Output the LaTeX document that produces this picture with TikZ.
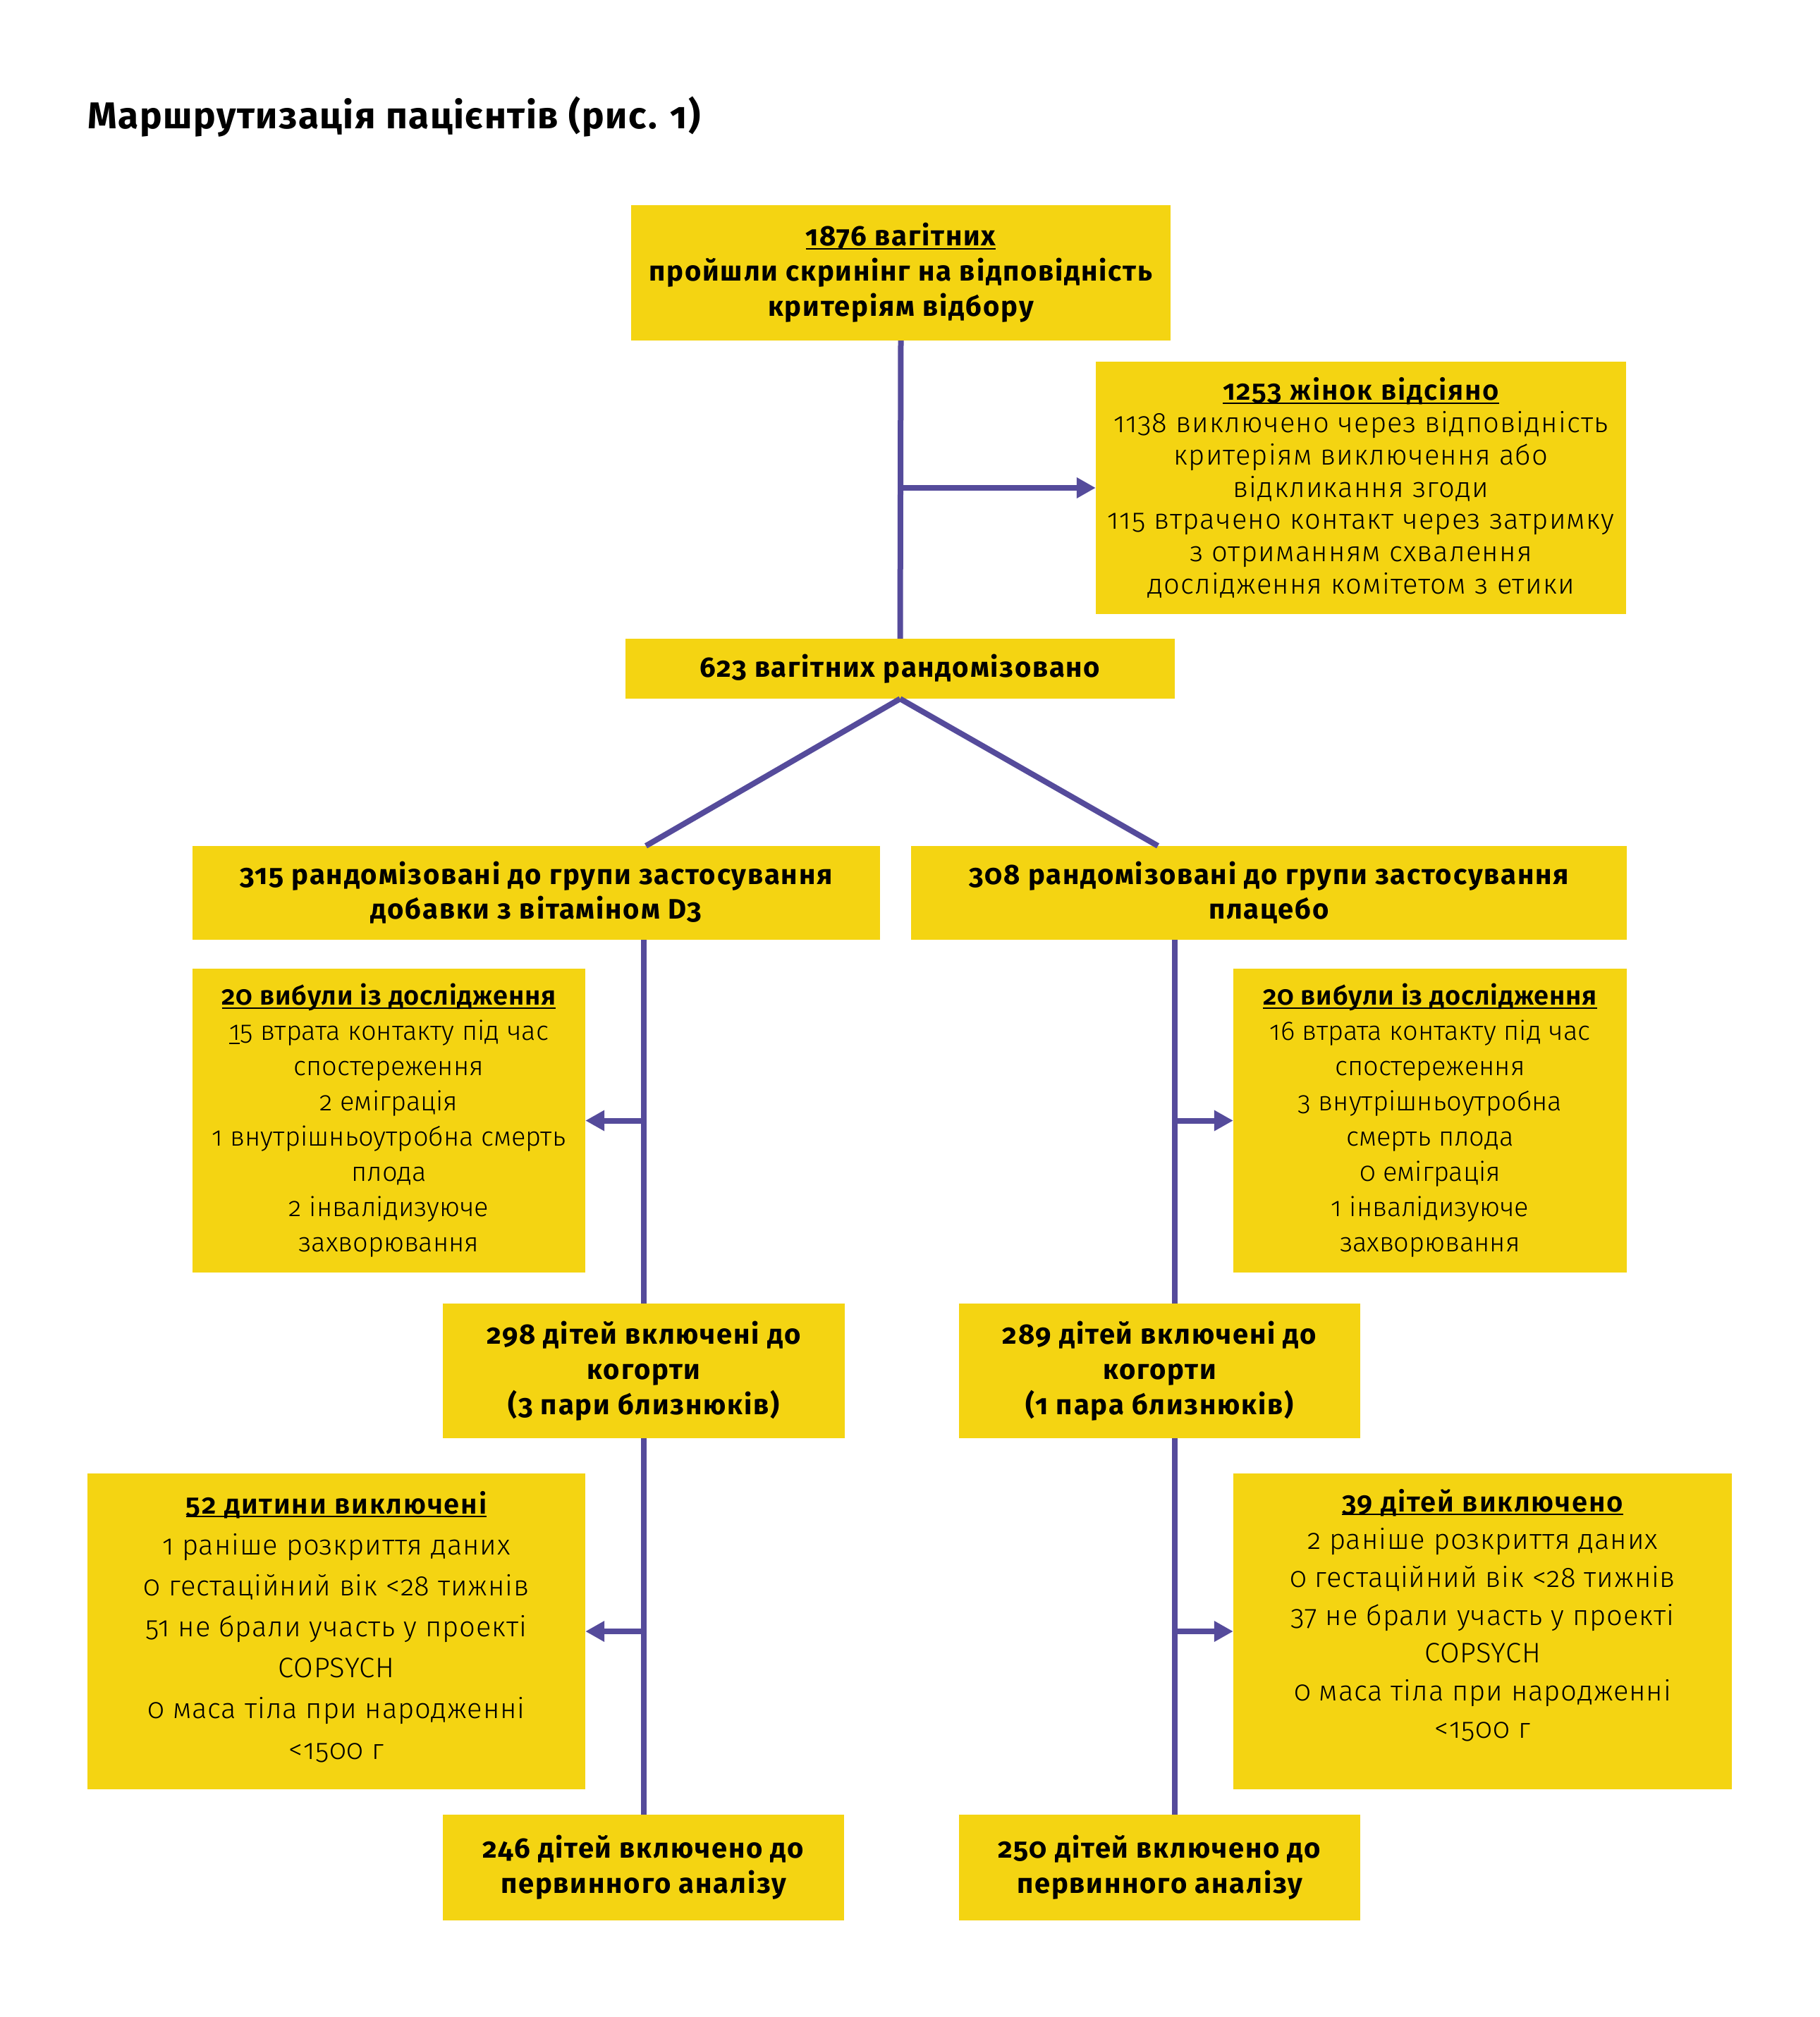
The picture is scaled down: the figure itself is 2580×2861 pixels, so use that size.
\documentclass[tikz,border=0pt]{standalone}
\usepackage{fontspec}
\setmainfont{Fira Sans}[Numbers=OldStyle]
\newfontfamily\lt{Fira Sans Light}[Numbers=OldStyle]
\newsavebox\undlbox
\newcommand\undl[1]{\sbox\undlbox{#1}\rlap{\rule[-5pt]{\wd\undlbox}{2pt}}\usebox\undlbox}
\newcommand\bfls{\bfseries\addfontfeature{LetterSpace=4.5}}
\newcommand\ltls[1]{\lt\addfontfeature{LetterSpace=#1}}
\usetikzlibrary{arrows.meta}
\definecolor{yel}{HTML}{F4D412}
\definecolor{pur}{HTML}{554B9B}
\tikzset{
  box/.style={fill=yel, inner sep=0pt, align=center, text=black},
  ln/.style={draw=pur, line width=8pt},
  arr/.style={draw=pur, line width=8pt, -{Triangle[length=27pt,width=28pt]}, fill=pur},
}
\begin{document}
\begin{tikzpicture}[x=1pt,y=-1pt]
\useasboundingbox (0,0) rectangle (2580,2861);
\fill[white] (0,0) rectangle (2580,2861);

\node[anchor=base west, inner sep=0pt, font=\fontsize{53}{60}\selectfont\bfseries\addfontfeature{LetterSpace=3}] (title) at (124,182) {Маршрутизація пацієнтів (рис. 1)};

\node[box, minimum width=765pt, minimum height=192pt, font=\fontsize{40}{50}\selectfont\bfls] (top) at (1277.5,387)
 {\undl{1876 вагітних}\\ пройшли скринінг на відповідність\\ критеріям відбору};

\node[box, minimum width=752pt, minimum height=358pt, font=\fontsize{40}{45.8}\selectfont\ltls{2.9}] (excl) at (1930,692)
 {{\bfls\undl{1253 жінок відсіяно}}\\ 1138 виключено через відповідність\\ критеріям виключення або\\ відкликання згоди\\ 115 втрачено контакт через затримку\\ з отриманням схвалення\\ дослідження комітетом з етики};

\node[box, minimum width=779pt, minimum height=85pt, font=\fontsize{40}{50}\selectfont\bfls] (r623) at (1276.5,948.5)
 {623 вагітних рандомізовано};

\node[box, minimum width=975pt, minimum height=133pt, font=\fontsize{40}{49}\selectfont\bfls] (b315) at (760.5,1266.5)
 {315 рандомізовані до групи застосування\\ добавки з вітаміном D3};
\node[box, minimum width=1015pt, minimum height=133pt, font=\fontsize{40}{49}\selectfont\bfls] (b308) at (1799.5,1266.5)
 {308 рандомізовані до групи застосування\\ плацебо};

\node[box, minimum width=557pt, minimum height=431pt, font=\fontsize{38}{50}\selectfont\lt] (dL) at (551.5,1589.5)
 {{\bfseries\addfontfeature{LetterSpace=2}\undl{20 вибули із дослідження}}\\ \undl{1}5 втрата контакту під час\\ спостереження\\ 2 еміграція\\ 1 внутрішньоутробна смерть\\ плода\\ 2 інвалідизуюче\\ захворювання};
\node[box, minimum width=558pt, minimum height=431pt, font=\fontsize{38}{50}\selectfont\lt] (dR) at (2028,1589.5)
 {{\bfseries\addfontfeature{LetterSpace=2}\undl{20 вибули із дослідження}}\\ 16 втрата контакту під час\\ спостереження\\ 3 внутрішньоутробна\\ смерть плода\\ 0 еміграція\\ 1 інвалідизуюче\\ захворювання};

\node[box, minimum width=570pt, minimum height=191pt, font=\fontsize{40}{50}\selectfont\bfls] (c298) at (913,1944.5)
 {298 дітей включені до\\ когорти\\ (3 пари близнюків)};
\node[box, minimum width=569pt, minimum height=191pt, font=\fontsize{40}{50}\selectfont\bfls] (c289) at (1644.5,1944.5)
 {289 дітей включені до\\ когорти\\ (1 пара близнюків)};

\node[box, minimum width=706pt, minimum height=448pt, font=\fontsize{40}{58}\selectfont\ltls{2}] (e52) at (477,2314)
 {{\bfls\undl{52 дитини виключені}}\\ 1 раніше розкриття даних\\ 0 гестаційний вік <28 тижнів\\ 51 не брали участь у проекті\\ COPSYCH\\ 0 маса тіла при народженні\\ <1500 г\rule[-18pt]{0pt}{0pt}};
\node[box, minimum width=707pt, minimum height=448pt, font=\fontsize{40}{53.6}\selectfont\ltls{2}] (e39) at (2102.5,2314)
 {{\bfls\undl{39 дітей виключено}}\\ 2 раніше розкриття даних\\ 0 гестаційний вік <28 тижнів\\ 37 не брали участь у проекті\\ COPSYCH\\ 0 маса тіла при народженні\\ <1500 г\rule[-50pt]{0pt}{0pt}};

\node[box, minimum width=569pt, minimum height=150pt, font=\fontsize{40}{50}\selectfont\bfls] (f246) at (912.5,2649)
 {246 дітей включено до\\ первинного аналізу};
\node[box, minimum width=569pt, minimum height=150pt, font=\fontsize{40}{50}\selectfont\bfls] (f250) at (1644.5,2649)
 {250 дітей включено до\\ первинного аналізу};

\coordinate (xL) at (913,0);
\coordinate (xR) at (1666,0);
\coordinate (dl) at (916,0);
\coordinate (dr) at (1642,0);

\draw[ln] (top.south) -- (r623.north);
\draw[arr] (top.south |- excl.west) -- (excl.west);
\draw[ln] (r623.south) -- (b315.north -| dl);
\draw[ln] (r623.south) -- (b308.north -| dr);
\draw[ln] (b315.south -| xL) -- (c298.north -| xL);
\draw[arr] (xL |- dL.east) -- (dL.east);
\draw[ln] (c298.south -| xL) -- (f246.north -| xL);
\draw[arr] (xL |- e52.east) -- (e52.east);
\draw[ln] (b308.south -| xR) -- (c289.north -| xR);
\draw[arr] (xR |- dR.west) -- (dR.west);
\draw[ln] (c289.south -| xR) -- (f250.north -| xR);
\draw[arr] (xR |- e39.west) -- (e39.west);
\end{tikzpicture}
\end{document}
